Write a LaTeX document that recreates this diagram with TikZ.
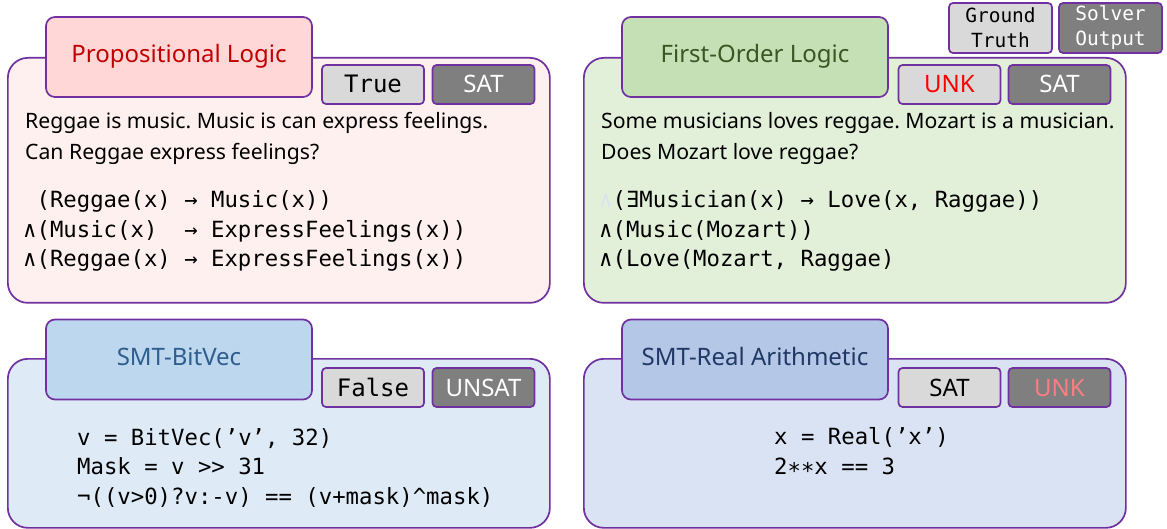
\documentclass[tikz,border=0pt]{standalone}
\usepackage{fontspec}
\setmainfont{Noto Sans}
\setmonofont{DejaVu Sans Mono}
\usepackage{tikz}
\usetikzlibrary{positioning}
\frenchspacing
\definecolor{purp}{HTML}{7030A0}
\definecolor{plfill}{HTML}{FFF0F0}
\definecolor{pltab}{HTML}{FFD7D7}
\definecolor{pltitle}{HTML}{C00000}
\definecolor{folfill}{HTML}{E2F0D9}
\definecolor{foltab}{HTML}{C5E0B4}
\definecolor{foltitle}{HTML}{385723}
\definecolor{bvfill}{HTML}{DEEBF7}
\definecolor{bvtab}{HTML}{BDD7EE}
\definecolor{bvtitle}{HTML}{2E5D8E}
\definecolor{rafill}{HTML}{DAE3F3}
\definecolor{ratab}{HTML}{B4C7E7}
\definecolor{ratitle}{HTML}{203864}
\definecolor{lgray}{HTML}{D9D9D9}
\definecolor{dgray}{HTML}{7F7F7F}
\definecolor{unkred}{HTML}{FF0000}
\definecolor{unkpink}{HTML}{FF7C80}
\definecolor{faint}{HTML}{D8E4F0}
\tikzset{
  panel/.style={draw=purp,line width=1.7pt,rounded corners=20pt,inner sep=0pt,anchor=north west,minimum width=542pt},
  tab/.style={draw=purp,line width=1.7pt,rounded corners=9pt,inner sep=0pt,minimum width=266pt,minimum height=80pt,
    text height=18pt,text depth=6pt,font=\fontsize{24}{28}\selectfont},
  answer/.style={draw=purp,line width=1.7pt,rounded corners=4pt,inner sep=0pt,minimum width=102pt,minimum height=39pt,
    text height=17pt,text depth=0pt,font=\fontsize{24}{28}\selectfont},
  truth/.style={answer,fill=lgray},
  solver/.style={answer,fill=dgray,text=white},
  legend/.style={draw=purp,line width=1.7pt,rounded corners=4pt,inner sep=0pt,minimum width=103pt,minimum height=50pt,
    align=center,font=\ttfamily\fontsize{19.5}{25}\selectfont},
  question/.style={anchor=base west,inner sep=0pt,align=left,font=\fontsize{21.2}{31}\selectfont},
  formula/.style={anchor=base west,inner sep=0pt,align=left,font=\ttfamily\fontsize{22.3}{29.5}\selectfont}
}
\begin{document}
\begin{tikzpicture}[x=1pt,y=-1pt]
\useasboundingbox (0,0) rectangle (1167,529);
% legend
\node[legend,fill=lgray] (GT) at (1000.5,28) {Ground\\Truth};
\node[legend,fill=dgray,text=white] (SO) at (1110.5,28) {Solver\\Output};
% propositional logic
\node[panel,fill=plfill,minimum height=245pt] (PL) at (7,57) {};
\node[tab,fill=pltab,text=pltitle] (PLtab) at (179,57) {Propositional Logic};
\node[truth,font=\ttfamily\fontsize{24}{28}\selectfont] (PLgt) at (373,84.5) {True};
\node[solver] (PLso) at (483.5,84.5) {SAT};
\node[question] (PLq) at (25,160) {Reggae is music. Music is can express feelings.\\Can Reggae express feelings?};
\node[formula] (PLf) at (23,267) {~(Reggae(x) → Music(x))\\∧(Music(x)~~→ ExpressFeelings(x))\\∧(Reggae(x) → ExpressFeelings(x))};
% first-order logic
\node[panel,fill=folfill,minimum height=245pt] (FOL) at (583,57) {};
\node[tab,fill=foltab,text=foltitle] (FOLtab) at (755,57) {First-Order Logic};
\node[truth,text=unkred] (FOLgt) at (949.5,84.5) {UNK};
\node[solver] (FOLso) at (1059.5,84.5) {SAT};
\node[question] (FOLq) at (601,160) {Some musicians loves reggae. Mozart is a musician.\\Does Mozart love reggae?};
\node[formula] (FOLf) at (599,267) {\textcolor{faint}{∧}(∃Musician(x) → Love(x, Raggae))\\∧(Music(Mozart))\\∧(Love(Mozart, Raggae)};
% smt bitvec
\node[panel,fill=bvfill,minimum height=169pt] (BV) at (7,358) {};
\node[tab,fill=bvtab,text=bvtitle] (BVtab) at (179,359.5) {SMT-BitVec};
\node[truth,font=\ttfamily\fontsize{24}{28}\selectfont] (BVgt) at (373,387.5) {False};
\node[solver] (BVso) at (483.5,387.5) {UNSAT};
\node[formula] (BVf) at (77,504) {v = BitVec(’v’, 32)\\Mask = v >> 31\\¬((v>0)?v:-v) == (v+mask)\textasciicircum mask)};
% smt real arithmetic
\node[panel,fill=rafill,minimum height=169pt] (RA) at (583,358) {};
\node[tab,fill=ratab,text=ratitle] (RAtab) at (755,359.5) {SMT-Real Arithmetic};
\node[truth] (RAgt) at (949.5,387.5) {SAT};
\node[solver,text=unkpink] (RAso) at (1059.5,387.5) {UNK};
\node[formula] (RAf) at (774,474) {x = Real(’x’)\\2∗∗x == 3};
\end{tikzpicture}
\end{document}
